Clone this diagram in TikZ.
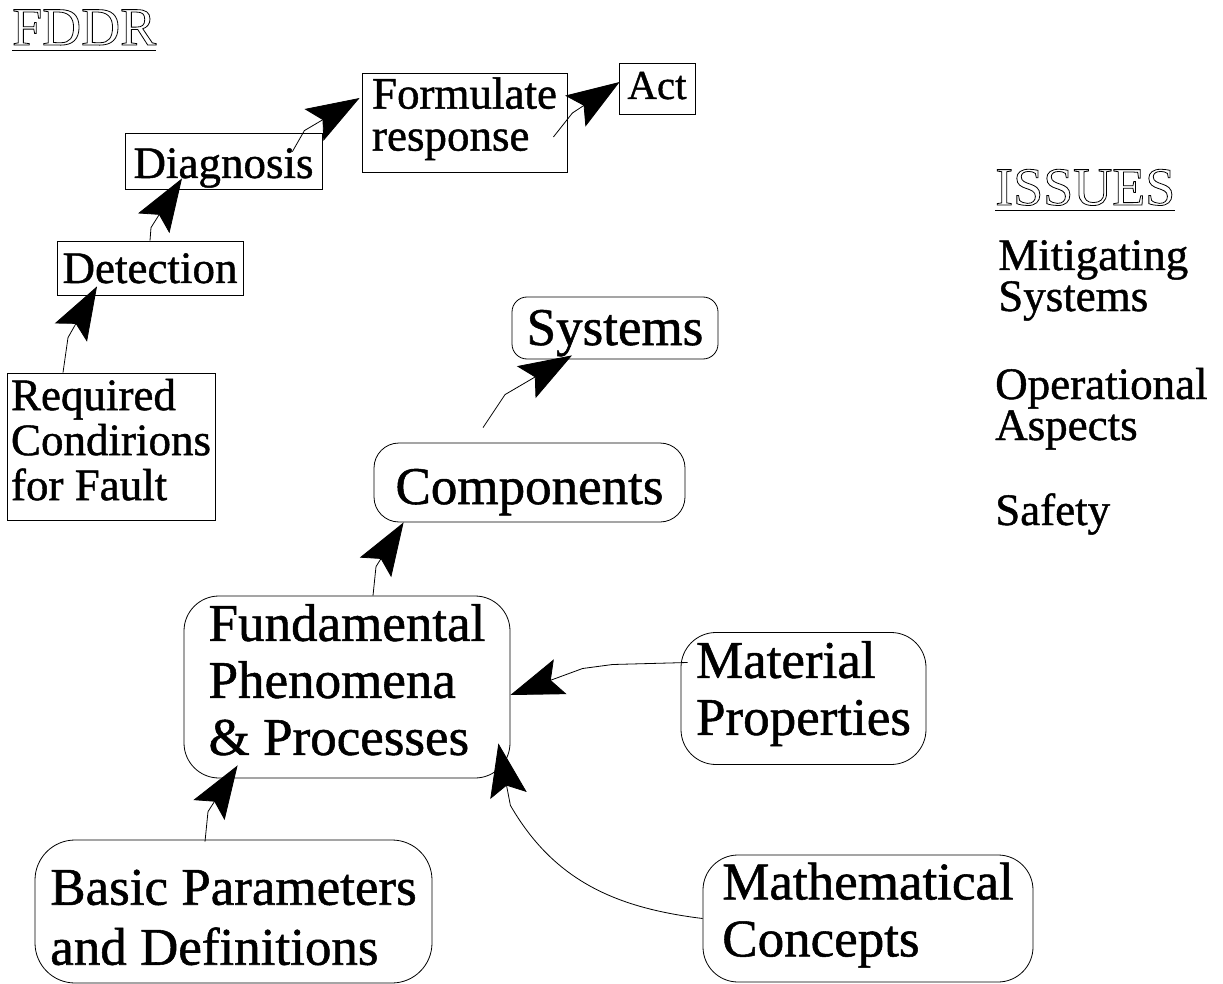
\documentclass[tikz,border=0pt]{standalone}
\usepackage{fontspec}
\setmainfont[FakeBold=1]{Liberation Serif}
\newfontfamily\headfont{Liberation Serif}
\usetikzlibrary{arrows.meta}
\newcommand\outlined[1]{\special{pdf:literal direct 1 Tr 0.8 w}#1\special{pdf:literal direct 0 Tr}}

\tikzset{
	fddrbox/.style={draw, line width=0.8pt, inner sep=0pt, align=left,
		font=\fontsize{45}{45}\selectfont},
	physbox/.style={draw, line width=0.8pt, inner sep=0pt, align=left,
		font=\fontsize{53}{57}\selectfont},
	issue/.style={anchor=base west, inner sep=0pt, align=left,
		font=\fontsize{45}{41}\selectfont},
	heading/.style={anchor=base west, inner sep=0pt,
		font=\headfont\fontsize{54}{54}\selectfont},
	flow/.style={line width=0.8pt, -{Stealth[length=53pt,width=37pt,inset=10pt]}}
}

\begin{document}
\begin{tikzpicture}[x=1pt,y=-1pt]
		\useasboundingbox (0,0) rectangle (1223,984);
		% headings
		\node[heading] (fddr) at (12,45) {\outlined{FDDR}};
		\draw[line width=0.8pt] ([yshift=-5pt]fddr.base west) -- ([yshift=-5pt]fddr.base east);
		\node[heading] (issues) at (995,205) {\outlined{ISSUES}};
		\draw[line width=0.8pt] ([yshift=-5pt]issues.base west) -- ([yshift=-5pt]issues.base east);
		% issues list
		\node[issue] (mitig) at (998,311) {Mitigating\\Systems};
		\node[issue] (operat) at (995,440) {Operational\\Aspects};
		\node[issue] (safety) at (995,525) {Safety};
		% FDDR chain
		\node[fddrbox,
		minimum width=208pt,
		minimum height=147pt] (req) at (111,446.5)
		{Required\\Condirions\\for Fault\rule[-14pt]{0pt}{0pt}};
		\node[fddrbox,
		minimum width=186pt,
		minimum height=54pt,
		text height=36pt, text depth=6pt] (det) at (150,268) {Detection};
		\node[fddrbox,
		minimum width=197pt,
		minimum height=56pt,
		text height=40pt, text depth=6pt] (diag) at (223.5,161) {Diagnosis};
		\node[fddrbox,
		font=\fontsize{45}{42}\selectfont,
		minimum width=205pt,
		minimum height=99pt] (form) at (464.5,122.5)
		{Formulate\\response\rule[-17pt]{0pt}{0pt}};
		\node[fddrbox,
		font=\fontsize{41}{41}\selectfont,
		minimum width=76pt,
		minimum height=51pt,
		text height=27pt, text depth=6pt] (act) at (657,88.5) {Act};
		% physics boxes
		\node[physbox,
		rounded corners=15pt,
		minimum width=206pt,
		minimum height=62pt,
		text height=40pt, text depth=6pt] (sys) at (615,328) {Systems};
		\node[physbox,
		rounded corners=25pt,
		minimum width=311pt,
		minimum height=79pt,
		text height=49pt, text depth=6pt] (comp) at (529.5,482.5) {Components};
		\node[physbox,
		rounded corners=35pt,
		minimum width=326pt,
		minimum height=182pt] (fund) at (347,687)
		{Fundamental\\Phenomena\\\& Processes\rule[-15pt]{0pt}{0pt}};
		\node[physbox,
		rounded corners=35pt,
		minimum width=245pt,
		minimum height=132pt] (mat) at (803.5,698.5)
		{Material\\Properties\rule[-21pt]{0pt}{0pt}};
		\node[physbox,
		font=\fontsize{53}{60}\selectfont,
		rounded corners=40pt,
		minimum width=397pt,
		minimum height=143pt] (basic) at (233.5,911.5)
		{\rule{0pt}{47pt}Basic Parameters\\and Definitions};
		\node[physbox,
		rounded corners=35pt,
		minimum width=330pt,
		minimum height=127pt] (math) at (868,918.5)
		{Mathematical\\Concepts\rule[-18pt]{0pt}{0pt}};
		% FDDR arrows
		\draw[flow] ([xshift=-48pt]req.north) -- ++(5,-35) -- ([xshift=-53pt,yshift=9pt]det.south);
		\draw[flow] (det.north) -- ++(1,-13) -- ([xshift=-41.5pt,yshift=11pt]diag.south);
		\draw[flow] ([xshift=-30pt,yshift=-19pt]diag.north east) -- ++(12,-21) -- ([xshift=-2pt,yshift=24.5pt]form.west);
		\draw[flow] ([xshift=-14pt,yshift=-14.5pt]form.east) -- ++(19,-24) -- ([xshift=1pt,yshift=6.5pt]act.west);
		% physics arrows
		\draw[flow] ([xshift=-46.5pt,yshift=15pt]comp.north) -- ++(22,-33) -- ([xshift=-43pt,yshift=4pt]sys.south);
		\draw[flow] ([xshift=26pt]fund.north) -- ++(3,-29) -- ([xshift=30pt]comp.south west);
		\draw[flow] ([xshift=7pt,yshift=36pt]mat.west) -- ++(-75,2) -- ++(-30,4) -- ([yshift=-8pt]fund.east);
		\draw[flow] ([xshift=-28.5pt,yshift=-2pt]basic.north) -- ++(3,-30) -- ([xshift=54pt,yshift=13pt]fund.south west);
		\draw[flow] (math.west) to[out=173,in=-60] ([yshift=-27pt]fund.south east)
		-- ([xshift=-12pt,yshift=35pt]fund.south east);
\end{tikzpicture}
\end{document}
